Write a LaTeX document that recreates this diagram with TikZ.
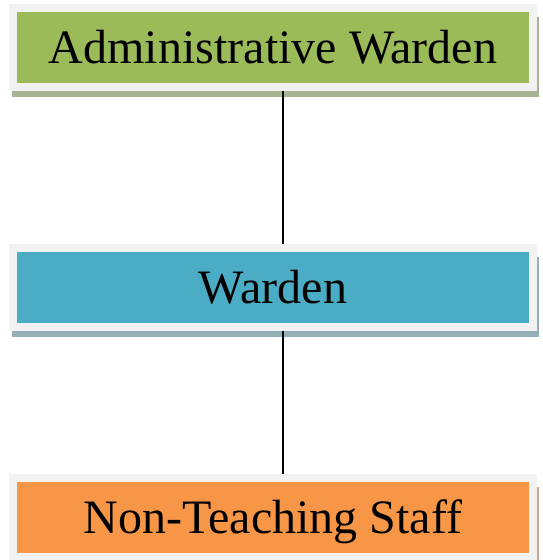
\documentclass[tikz,border=0pt]{standalone}
\usepackage{fontspec}
\setmainfont{Liberation Serif}
\usetikzlibrary{positioning, shadows}
\definecolor{admingreen}{HTML}{9BBB59}
\definecolor{wardenblue}{HTML}{4BACC6}
\definecolor{staffor}{HTML}{F79646}
\definecolor{framegray}{HTML}{F2F2F2}
\definecolor{adminshade}{HTML}{A6B493}
\definecolor{wardenshade}{HTML}{94AFB6}
\definecolor{staffshade}{HTML}{C9A88E}

\begin{document}
\begin{tikzpicture}[node distance = 120pt, auto]
% Define block styles
\tikzstyle{post} = [rectangle, draw=framegray, line width=4pt,
    minimum width=260pt, minimum height=39.5pt, outer sep=2pt,
    text height=20pt, text depth=4pt,
    font=\fontsize{24}{28}\selectfont]
\tikzstyle{every shadow} = [shadow scale=1.013, shadow xshift=1.25pt,
    shadow yshift=-4.75pt, opacity=1]
\tikzstyle{line} = [draw, line width=1.1pt]
    \useasboundingbox (0,0) rectangle (271pt,-280pt);
    % Place nodes
    \node [post, fill=admingreen, drop shadow={fill=adminshade}] (admin) at (136.5pt,-23.75pt) {Administrative Warden};
    \node [post, fill=wardenblue, drop shadow={fill=wardenshade}, below of=admin] (warden) {Warden};
    \node [post, fill=staffor, drop shadow={fill=staffshade}, below of=warden, node distance=115pt] (staff) {Non-Teaching Staff};
    \path [line] ([xshift=5pt]admin.south) -- ([xshift=5pt]warden.north);
    \path [line] ([xshift=5pt]warden.south) -- ([xshift=5pt]staff.north);
\end{tikzpicture}
\end{document}
